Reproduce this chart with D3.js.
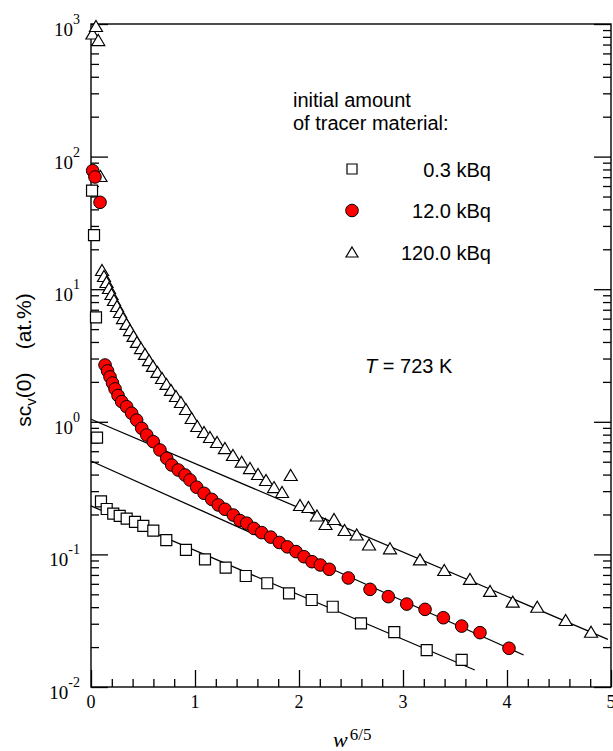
<!DOCTYPE html>
<html><head><meta charset="utf-8">
<script src="https://cdn.jsdelivr.net/npm/d3@7"></script>
<style>body{margin:0;background:#fff}svg{display:block}</style>
</head><body>
<script>
// ---- data ----
const sqX = [0.01,0.029,0.048,0.058,0.096,0.151,0.214,0.276,0.343,0.423,0.503,0.599,0.724,0.913,1.096,1.295,1.488,1.695,1.904,2.122,2.324,2.596,2.916,3.228,3.564];
const sqY = [55.3,25.6,6.14,0.761,0.251,0.220,0.203,0.195,0.186,0.176,0.164,0.151,0.128,0.108,0.0918,0.0794,0.0687,0.0606,0.0509,0.0453,0.0403,0.0302,0.0259,0.0190,0.0160];

const ciX = [0.016,0.038,0.087,0.135,0.159,0.183,0.207,0.231,0.260,0.295,0.343,0.391,0.439,0.488,0.536,0.599,0.663,0.728,0.776,0.839,0.904,0.952,1.016,1.087,1.161,1.224,1.288,1.368,1.433,1.497,1.567,1.641,1.728,1.811,1.888,1.971,2.048,2.125,2.205,2.291,2.474,2.683,2.859,3.036,3.212,3.388,3.564,3.740,4.019];
const ciY = [78.3,70.2,45.2,2.68,2.42,2.18,1.96,1.77,1.58,1.42,1.30,1.16,1.03,0.893,0.795,0.708,0.613,0.530,0.472,0.433,0.397,0.364,0.321,0.289,0.260,0.236,0.219,0.198,0.180,0.172,0.157,0.146,0.135,0.123,0.114,0.105,0.0961,0.0881,0.0832,0.0772,0.0664,0.0545,0.0480,0.0422,0.0385,0.0333,0.0288,0.0257,0.0196];

const trX = [0.014,0.048,0.070,0.091,0.106,0.125,0.149,0.173,0.197,0.221,0.250,0.279,0.308,0.341,0.375,0.409,0.442,0.481,0.519,0.558,0.596,0.639,0.683,0.726,0.769,0.817,0.865,0.913,0.968,1.022,1.087,1.144,1.212,1.288,1.365,1.449,1.529,1.606,1.683,1.760,1.837,1.920,2.010,2.091,2.173,2.255,2.337,2.438,2.555,2.673,2.875,3.163,3.397,3.644,3.837,4.055,4.291,4.564,4.808];
const trY = [848,966,757,71.4,13.96,12.58,11.33,10.21,9.20,8.29,7.47,6.73,6.06,5.47,4.92,4.44,4.00,3.60,3.25,2.92,2.64,2.38,2.14,1.93,1.74,1.565,1.41,1.249,1.068,0.930,0.838,0.768,0.704,0.634,0.562,0.500,0.448,0.404,0.364,0.322,0.2955,0.397,0.2358,0.2278,0.1965,0.1696,0.1849,0.1528,0.1413,0.1188,0.1112,0.0918,0.0763,0.0653,0.0530,0.0440,0.0403,0.0320,0.0261];

// fitted straight lines (endpoints)
const fitX0 = [0, 0, 0];
const fitY0 = [1.045, 0.506, 0.232];
const fitX1 = [4.97, 4.16, 3.69];
const fitY1 = [0.0229, 0.01743, 0.01343];

const legendLabels = ["0.3 kBq", "12.0 kBq", "120.0 kBq"];
const xTickValues = [0, 1, 2, 3, 4, 5];
const yExponents = [-2, -1, 0, 1, 2, 3];

// ---- layout ----
const W = 613, H = 751;
const L = 91, R = 611, T = 24, B = 687;
const svg = d3.select("body").append("svg").attr("width", W).attr("height", H);
const x = d3.scaleLinear().domain([0, 5]).range([L, R]);
const y = d3.scaleLog().domain([0.01, 1000]).range([B, T]);

const serif = "'Liberation Serif','Times New Roman',serif";
const sans = "'Liberation Sans',Arial,Helvetica,sans-serif";

const xMinor = d3.range(0, 5.0001, 0.2).filter(v => Math.abs(v - Math.round(v)) > 1e-6);
const yMajor = yExponents.map(e => Math.pow(10, e));
const yMinor = [];
for (let e = -2; e < 3; e++) for (let k = 2; k <= 9; k++) yMinor.push(k * Math.pow(10, e));

function styleAxis(g) {
  g.select(".domain").remove();
  g.selectAll(".tick line").attr("stroke", "#000").attr("stroke-width", 1.3);
  g.selectAll(".tick text").remove();
}
svg.append("g").attr("transform", `translate(0,${B})`).call(d3.axisBottom(x).tickValues(xTickValues).tickSize(-17)).call(styleAxis);
svg.append("g").attr("transform", `translate(0,${B})`).call(d3.axisBottom(x).tickValues(xMinor).tickSize(-8)).call(styleAxis);
svg.append("g").attr("transform", `translate(${L},0)`).call(d3.axisLeft(y).tickValues(yMajor).tickSize(-17)).call(styleAxis);
svg.append("g").attr("transform", `translate(${L},0)`).call(d3.axisLeft(y).tickValues(yMinor).tickSize(-8)).call(styleAxis);
svg.append("g").attr("transform", `translate(${R},0)`).call(d3.axisRight(y).tickValues(yMajor).tickSize(-17)).call(styleAxis);
svg.append("g").attr("transform", `translate(${R},0)`).call(d3.axisRight(y).tickValues(yMinor).tickSize(-8)).call(styleAxis);

svg.append("rect").attr("x", L).attr("y", T).attr("width", R - L).attr("height", B - T)
  .attr("fill", "none").attr("stroke", "#000").attr("stroke-width", 1.4);

// x tick labels
svg.append("g").selectAll("text").data(xTickValues).join("text")
  .attr("x", d => x(d)).attr("y", B + 21).attr("text-anchor", "middle")
  .attr("font-family", serif).attr("font-size", 18).text(d => d);

// y tick labels 10^n
const yl = svg.append("g").selectAll("text").data(yExponents).join("text")
  .attr("x", 80).attr("y", d => y(Math.pow(10, d)) + 12).attr("text-anchor", "end")
  .attr("font-family", serif).attr("font-size", 19);
yl.append("tspan").text("10");
yl.append("tspan").attr("dy", -12).attr("font-size", 14).text(d => d);

// axis titles
const xt = svg.append("text").attr("x", 333).attr("y", 747).attr("font-family", serif);
xt.append("tspan").attr("font-style", "italic").attr("font-size", 22).text("w");
xt.append("tspan").attr("dy", -7).attr("dx", 2).attr("font-size", 17).text("6/5");

const yt = svg.append("text").attr("transform", `translate(31,360) rotate(-90)`)
  .attr("text-anchor", "middle").attr("font-family", sans).attr("font-size", 21);
yt.append("tspan").text("sc");
yt.append("tspan").attr("dy", 5).attr("font-size", 15).text("v");
yt.append("tspan").attr("dy", -5).text("(0)\u00a0\u00a0\u00a0\u00a0(at.%)");

// fit lines
svg.append("g").selectAll("line").data(fitX0).join("line")
  .attr("x1", (d, i) => x(fitX0[i])).attr("y1", (d, i) => y(fitY0[i]))
  .attr("x2", (d, i) => x(fitX1[i])).attr("y2", (d, i) => y(fitY1[i]))
  .attr("stroke", "#000").attr("stroke-width", 1.3);

const sqPath = (s) => `M${-s/2},${-s/2}h${s}v${s}h${-s}Z`;
const triPath = (w, h) => `M0,${-h/2}L${w/2},${h/2}L${-w/2},${h/2}Z`;

const plot = svg.append("g");
plot.append("g").selectAll("path").data(sqX).join("path")
  .attr("transform", (d, i) => `translate(${x(sqX[i])},${y(sqY[i])})`)
  .attr("d", sqPath(11)).attr("fill", "#fff").attr("stroke", "#000").attr("stroke-width", 1.2);
plot.append("g").selectAll("path").data(trX).join("path")
  .attr("transform", (d, i) => `translate(${x(trX[i])},${y(trY[i])})`)
  .attr("d", triPath(13, 11)).attr("fill", "#fff").attr("stroke", "#000").attr("stroke-width", 1.2);
plot.append("g").selectAll("circle").data(ciX).join("circle")
  .attr("cx", (d, i) => x(ciX[i])).attr("cy", (d, i) => y(ciY[i])).attr("r", 6.3)
  .attr("fill", "#ff0000").attr("stroke", "#000").attr("stroke-width", 1);

// legend
const lg = svg.append("g").attr("font-family", sans).attr("font-size", 20).attr("fill", "#000");
lg.append("text").attr("x", 293).attr("y", 107).text("initial amount");
lg.append("text").attr("x", 293).attr("y", 130).text("of tracer material:");
const rowY = [169, 210.5, 252];
lg.append("path").attr("transform", `translate(352,${rowY[0]})`).attr("d", sqPath(10)).attr("fill", "#fff").attr("stroke", "#000").attr("stroke-width", 1.2);
lg.append("circle").attr("cx", 352).attr("cy", rowY[1]).attr("r", 6.3).attr("fill", "#ff0000").attr("stroke", "#000").attr("stroke-width", 1);
lg.append("path").attr("transform", `translate(352,${rowY[2]})`).attr("d", triPath(12, 10)).attr("fill", "#fff").attr("stroke", "#000").attr("stroke-width", 1.2);
lg.selectAll("text.lab").data(legendLabels).join("text").attr("class", "lab")
  .attr("x", 491).attr("y", (d, i) => rowY[i] + 7.5).attr("text-anchor", "end").text(d => d);

const tt = svg.append("text").attr("x", 365).attr("y", 373).attr("font-family", sans).attr("font-size", 20);
tt.append("tspan").attr("font-style", "italic").text("T");
tt.append("tspan").text(" = 723 K");
</script>
</body></html>
